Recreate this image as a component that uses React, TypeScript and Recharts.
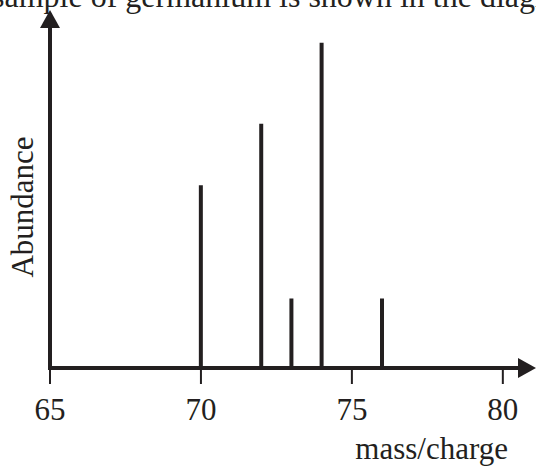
import React from 'react';
import { ComposedChart, Bar, XAxis, YAxis, Label } from 'recharts';

const massCharge = [70, 72, 73, 74, 76];
const abundance = [20.5, 27.4, 7.8, 36.5, 7.8];
const xTicks = [65, 70, 75, 80];
const captionText = 'sample of germanium is shown in the diagram';
const xTitle = 'mass/charge';
const yTitle = 'Abundance';

const data = massCharge.map((m, i) => ({ m, a: abundance[i] }));

const INK = '#231f20';
const FONT = '"Liberation Serif", "Times New Roman", Times, serif';

const XTitle = (props: any) => {
  const vb = props.viewBox || {};
  return (
    <text x={vb.x + vb.width - 22} y={459} textAnchor="end" fill={INK} fontSize={31} fontFamily={FONT}>
      {xTitle}
    </text>
  );
};

const YTitle = (props: any) => {
  const vb = props.viewBox || {};
  const x = vb.x + vb.width - 17;
  const y = vb.y + vb.height / 2 + 15;
  return (
    <text x={x} y={y} textAnchor="middle" fill={INK} fontSize={31} fontFamily={FONT} transform={`rotate(-90, ${x}, ${y})`}>
      {yTitle}
    </text>
  );
};

export default function App() {
  return (
    <div style={{ position: 'absolute', left: 0, top: 0, width: 536, height: 470, background: '#fff', overflow: 'hidden' }}>
      <svg width={0} height={0} style={{ position: 'absolute' }}>
        <defs>
          <marker id="arrowHead" markerUnits="userSpaceOnUse" markerWidth={18} markerHeight={20} viewBox="0 0 18 20" refX={12} refY={10} orient="auto-start-reverse">
            <path d="M0,0 L18,10 L0,20 Z" fill={INK} />
          </marker>
        </defs>
      </svg>
      <ComposedChart width={536} height={470} data={data} margin={{ top: 16, right: 6, left: 49, bottom: 42 }}>
        <XAxis
          dataKey="m"
          type="number"
          domain={[65, 80.9]}
          ticks={xTicks}
          interval={0}
          height={60}
          tickSize={16}
          tickMargin={14}
          allowDataOverflow
          axisLine={{ stroke: INK, strokeWidth: 4, strokeLinecap: 'square', markerEnd: 'url(#arrowHead)' }}
          tickLine={{ stroke: INK, strokeWidth: 2 }}
          tick={{ fill: INK, fontSize: 31, fontFamily: FONT }}
        >
          <Label content={XTitle} />
        </XAxis>
        <YAxis
          type="number"
          domain={[0, 39.5]}
          width={1}
          tick={false}
          tickLine={false}
          allowDataOverflow
          axisLine={{ stroke: INK, strokeWidth: 4, strokeLinecap: 'square', markerStart: 'url(#arrowHead)' }}
        >
          <Label content={YTitle} />
        </YAxis>
        <Bar dataKey="a" fill={INK} barSize={4} isAnimationActive={false} />
      </ComposedChart>
      <svg width={536} height={470} style={{ position: 'absolute', left: 0, top: 0, pointerEvents: 'none' }}>
        <text x={-8} y={7} fill={INK} fontSize={32} fontFamily={FONT}>{captionText}</text>
      </svg>
    </div>
  );
}
